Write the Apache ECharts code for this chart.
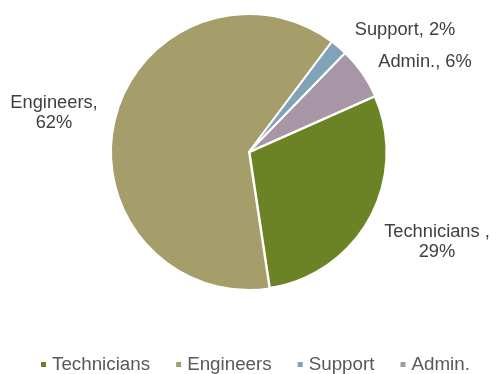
<!DOCTYPE html>
<html>
<head>
<meta charset="utf-8">
<script src="https://cdn.jsdelivr.net/npm/echarts@6/dist/echarts.min.js"></script>
<style>
  html, body { margin: 0; padding: 0; background: #ffffff; }
  #chart { width: 499px; height: 374px; }
</style>
</head>
<body>
<div id="chart"></div>
<script>
// Staff breakdown by role (percent of headcount)
const categories = ['Technicians', 'Engineers', 'Support', 'Admin.'];
const shares = [29, 62, 2, 6];
const labelTexts = ['Technicians ,\n29%', 'Engineers,\n62%', 'Support, 2%', 'Admin., 6%'];
const colors = ['#6B8324', '#A59D6A', '#80A3B8', '#A696A6'];

// Label anchor points (centre of each text block)
const labelSpots = [[437, 242], [54, 113], [405, 30], [425, 62]];

const chart = echarts.init(document.getElementById('chart'), null, { renderer: 'canvas' });

chart.setOption({
  animation: false,
  color: colors,
  legend: {
    data: categories,
    left: 36,
    top: 350,
    icon: 'rect',
    itemWidth: 5,
    itemHeight: 5,
    itemGap: 26,
    itemStyle: { borderWidth: 0 },
    textStyle: { fontFamily: 'Liberation Sans, Arial, sans-serif', fontSize: 18.8, color: '#595959', padding: [0, 0, 0, 1] }
  },
  series: [{
    type: 'pie',
    center: [249, 152],
    radius: [0, 138],
    startAngle: 24,
    clockwise: true,
    itemStyle: { borderColor: '#ffffff', borderWidth: 2 },
    label: {
      show: true,
      position: 'outside',
      alignTo: 'none',
      overflow: 'none',
      width: 200,
      fontFamily: 'Liberation Sans, Arial, sans-serif',
      fontSize: 18.3,
      lineHeight: 20,
      color: '#404040',
      align: 'center',
      formatter: p => labelTexts[p.dataIndex]
    },
    labelLine: { show: false },
    labelLayout: p => ({
      x: labelSpots[p.dataIndex][0],
      y: labelSpots[p.dataIndex][1],
      align: 'center',
      verticalAlign: 'middle'
    }),
    emphasis: { disabled: true },
    data: categories.map((name, i) => ({
      name: name,
      value: shares[i],
      // slightly wider white edge around the technicians wedge
      itemStyle: i === 0 ? { borderWidth: 3 } : undefined
    }))
  }]
});
</script>
</body>
</html>
